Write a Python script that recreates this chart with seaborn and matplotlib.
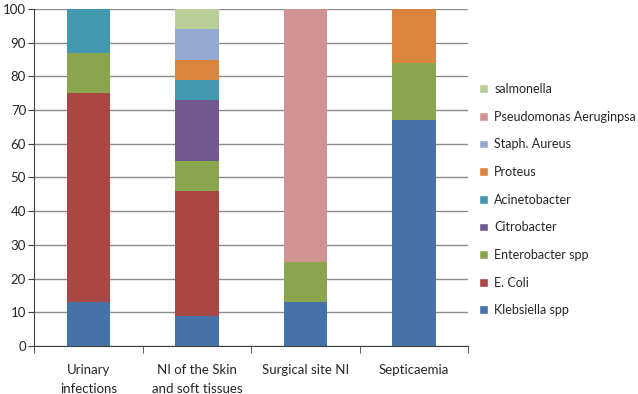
import numpy as np
import pandas as pd
import seaborn as sns
import matplotlib.pyplot as plt
from matplotlib.patches import Patch

sns.set_style("white")
plt.rcParams['font.family'] = ['Lato', 'DejaVu Sans']

categories = ["Urinary\ninfections", "NI of the Skin\nand soft tissues", "Surgical site NI", "Septicaemia"]
species = ["Klebsiella spp", "E. Coli", "Enterobacter spp", "Citrobacter", "Acinetobacter",
           "Proteus", "Staph. Aureus", "Pseudomonas Aeruginpsa", "salmonella"]
klebsiella = [13, 9, 13, 67]
ecoli = [62, 37, 0, 0]
enterobacter = [12, 9, 12, 17]
citrobacter = [0, 18, 0, 0]
acinetobacter = [13, 6, 0, 0]
proteus = [0, 6, 0, 16]
staph = [0, 9, 0, 0]
pseudomonas = [0, 0, 75, 0]
salmonella = [0, 6, 0, 0]
colors = ["#4572A7", "#AA4643", "#89A54E", "#71588F", "#4198AF",
          "#DB843D", "#93A9CF", "#D19392", "#B9CD96"]

series = [klebsiella, ecoli, enterobacter, citrobacter, acinetobacter,
          proteus, staph, pseudomonas, salmonella]

fig, ax = plt.subplots(figsize=(6.38, 3.94), dpi=100)
fig.subplots_adjust(left=0.054, right=0.734, top=0.977, bottom=0.122)

bottom = np.zeros(len(categories))
for name, vals, col in zip(species, series, colors):
    df = pd.DataFrame({"cat": categories, "val": vals})
    sns.barplot(data=df, x="cat", y="val", color=col, bottom=bottom, width=0.4,
                saturation=1, ax=ax, errorbar=None, linewidth=0)
    bottom = bottom + np.array(vals)

ax.set_ylim(0, 100)
ax.set_xlim(-0.5, len(categories) - 0.5)
ax.set_yticks(range(0, 101, 10))
ax.yaxis.grid(True, color="#8c8c8c", linewidth=1)
ax.set_axisbelow(True)
ax.set_xlabel("")
ax.set_ylabel("")
for s in ["top", "right"]:
    ax.spines[s].set_visible(False)
ax.spines["left"].set_color("#404040")
ax.spines["bottom"].set_color("#404040")
ax.tick_params(axis="y", length=4, color="#404040", labelsize=9.5, pad=2, left=True, direction="out")
ax.set_xticks(np.arange(-0.5, len(categories), 1.0), minor=True)
ax.tick_params(axis="x", which="major", length=0, labelsize=9.5, pad=13)
ax.tick_params(axis="x", which="minor", length=5, color="#404040", direction="out", bottom=True)
for lbl in ax.get_xticklabels():
    lbl.set_linespacing(1.7)

handles = [Patch(facecolor=c, label=n) for n, c in zip(species, colors)][::-1]
ax.legend(handles=handles, loc="upper left", bbox_to_anchor=(1.025, 0.78), frameon=False,
          borderpad=0, borderaxespad=0, fontsize=9, handlelength=0.7, handleheight=0.7,
          labelspacing=1.25, handletextpad=0.5)

fig.savefig("out.png", dpi=100)
